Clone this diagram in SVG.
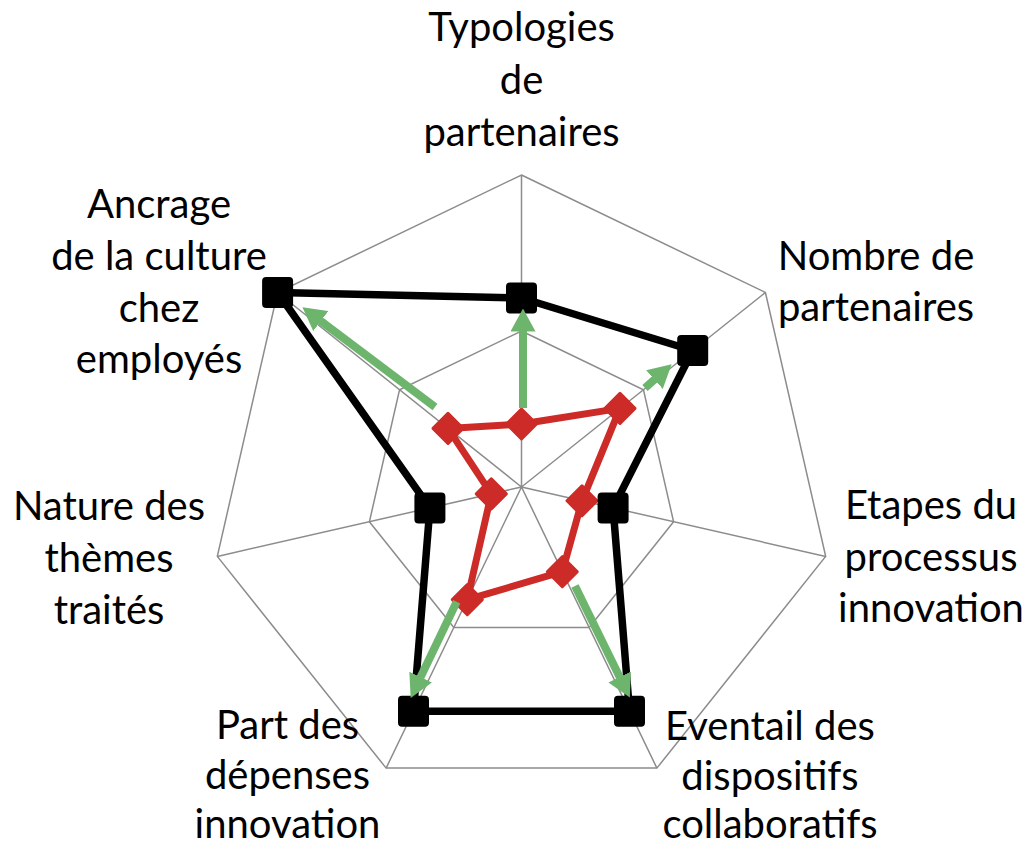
<svg xmlns="http://www.w3.org/2000/svg" width="1026" height="847" viewBox="0 0 1026 847">
<style>
.grid{fill:none;stroke:#8c8c8c;stroke-width:1.5}
.black{fill:none;stroke:#000;stroke-width:7.5;stroke-linejoin:round}
.red{fill:none;stroke:#cc2b27;stroke-width:7;stroke-linejoin:round}
.sq{fill:#000}
.dm{fill:#cc2b27;stroke:#cc2b27;stroke-width:3;stroke-linejoin:round}
.arrow{fill:none;stroke:#6db56d;stroke-width:8}
.lbl{font-family:Lato,"Open Sans","Liberation Sans",sans-serif;font-size:40px;fill:#000;text-anchor:middle}
</style>
<defs>
<rect id="sq" x="-15.5" y="-15.5" width="31" height="31" rx="4"/>
<path id="dm" d="M0,-15 L15,0 L0,15 L-15,0 Z"/>
<marker id="ah" markerUnits="userSpaceOnUse" markerWidth="23" markerHeight="25" viewBox="0 0 23 25" refX="0.5" refY="12.5" orient="auto">
<path d="M0,0 L23,12.5 L0,25 Z" fill="#6db56d"/>
</marker>
</defs>
<g id="grid" class="grid">
<polygon points="521.5,175 765.43,292.47 825.68,556.43 656.87,768.1 386.13,768.1 217.32,556.43 277.57,292.47"/>
<polygon points="521.5,331 643.47,389.74 673.59,521.71 589.19,627.55 453.81,627.55 369.41,521.71 399.53,389.74"/>
<path d="M521.5,487 L521.5,175 M521.5,487 L765.43,292.47 M521.5,487 L825.68,556.43 M521.5,487 L656.87,768.1 M521.5,487 L386.13,768.1 M521.5,487 L217.32,556.43 M521.5,487 L277.57,292.47"/>
</g>
<g id="series-red">
<polygon class="red" points="521.5,424 620,408.4 582,500.8 562.3,571.7 467.3,599.6 491.3,493.9 448,428.4"/>
<g class="dm">
<use href="#dm" x="521.5" y="424"/>
<use href="#dm" x="620" y="408.4"/>
<use href="#dm" x="582" y="500.8"/>
<use href="#dm" x="562.3" y="571.7"/>
<use href="#dm" x="467.3" y="599.6"/>
<use href="#dm" x="491.3" y="493.9"/>
<use href="#dm" x="448" y="428.4"/>
</g>
</g>
<g id="series-black">
<polygon class="black" points="521.5,298 692.7,350.5 613.1,507.9 629.5,711.3 413.5,711.3 429.9,507.9 277.6,292.5"/>
<g class="sq">
<use href="#sq" x="521.5" y="298"/>
<use href="#sq" x="692.7" y="350.5"/>
<use href="#sq" x="613.1" y="507.9"/>
<use href="#sq" x="629.5" y="711.3"/>
<use href="#sq" x="413.5" y="711.3"/>
<use href="#sq" x="429.9" y="507.9"/>
<use href="#sq" x="277.6" y="292.5"/>
</g>
</g>
<g id="connectors" class="arrow">
<line x1="523" y1="408" x2="523" y2="331" marker-end="url(#ah)"/>
<line x1="645" y1="388" x2="654.8" y2="379.3" marker-end="url(#ah)"/>
<line x1="435" y1="407" x2="320.4" y2="320.8" marker-end="url(#ah)"/>
<line x1="575" y1="586" x2="619.9" y2="677.4" marker-end="url(#ah)"/>
<line x1="456.7" y1="601.7" x2="420.4" y2="677.6" marker-end="url(#ah)"/>
</g>
<g id="labels" class="lbl">
<g id="lbl-typologies"><text x="521.5" y="41">Typologies</text><text x="521.5" y="93.5">de</text><text x="521.5" y="146">partenaires</text></g>
<g id="lbl-nombre"><text x="876" y="270">Nombre de</text><text x="876" y="321">partenaires</text></g>
<g id="lbl-etapes"><text x="931" y="518.5">Etapes du</text><text x="931" y="570.5">processus</text><text x="931" y="622">innovation</text></g>
<g id="lbl-eventail"><text x="770" y="740">Eventail des</text><text x="770" y="790">dispositifs</text><text x="770" y="838">collaboratifs</text></g>
<g id="lbl-part"><text x="287.5" y="738.5">Part des</text><text x="287.5" y="789">dépenses</text><text x="287.5" y="838">innovation</text></g>
<g id="lbl-nature"><text x="109" y="520">Nature des</text><text x="109" y="572">thèmes</text><text x="109" y="623.5">traités</text></g>
<g id="lbl-ancrage"><text x="159" y="217.5">Ancrage</text><text x="159" y="269.5">de la culture</text><text x="159" y="321.5">chez</text><text x="159" y="373">employés</text></g>
</g>
</svg>
